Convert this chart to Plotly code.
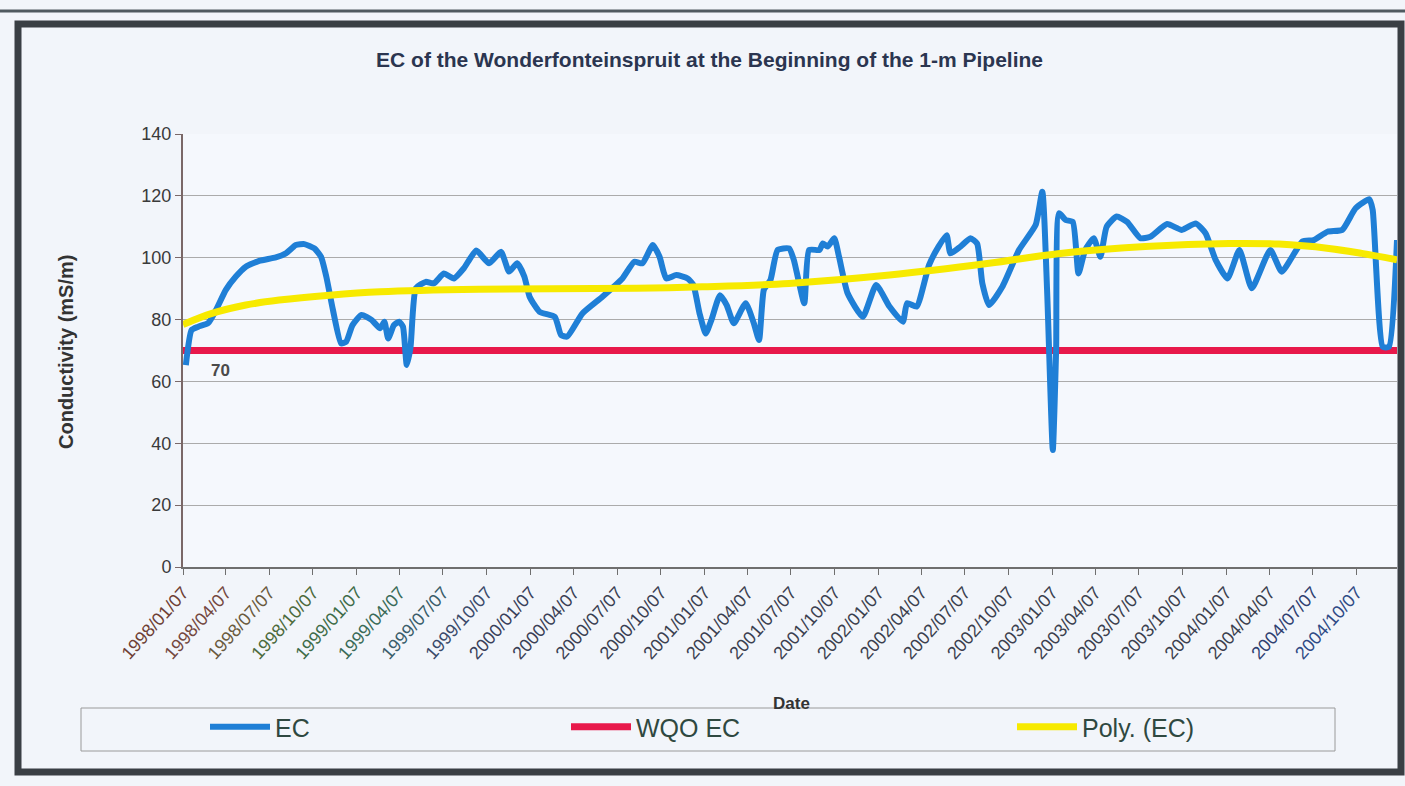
import plotly.graph_objects as go

# ---------------- data ----------------
ec_dates = [
    "1998-01-13", "1998-01-25", "1998-02-08", "1998-03-01", "1998-03-17", "1998-04-07",
    "1998-04-28", "1998-05-19", "1998-06-16", "1998-07-21", "1998-08-11", "1998-09-01",
    "1998-09-19", "1998-10-10", "1998-10-24", "1998-11-04", "1998-11-18", "1998-12-05",
    "1998-12-16", "1998-12-29", "1999-01-17", "1999-02-07", "1999-02-25", "1999-03-06",
    "1999-03-14", "1999-03-26", "1999-04-06", "1999-04-14", "1999-04-22", "1999-04-30",
    "1999-05-11", "1999-06-01", "1999-06-18", "1999-07-09", "1999-07-30", "1999-08-20",
    "1999-09-15", "1999-10-12", "1999-11-06", "1999-11-23", "1999-12-10", "1999-12-25",
    "2000-01-05", "2000-01-26", "2000-02-27", "2000-03-11", "2000-03-24", "2000-04-25",
    "2000-06-06", "2000-07-18", "2000-08-12", "2000-08-29", "2000-09-20", "2000-10-04",
    "2000-10-18", "2000-11-08", "2000-12-02", "2000-12-14", "2000-12-27", "2001-01-09",
    "2001-01-21", "2001-02-08", "2001-02-22", "2001-03-09", "2001-04-03", "2001-04-20",
    "2001-05-01", "2001-05-11", "2001-05-25", "2001-06-09", "2001-07-03", "2001-07-13",
    "2001-08-04", "2001-08-14", "2001-09-05", "2001-09-12", "2001-09-22", "2001-10-06",
    "2001-10-16", "2001-11-03", "2001-12-05", "2002-01-02", "2002-01-30", "2002-02-27",
    "2002-03-08", "2002-03-28", "2002-04-23", "2002-05-13", "2002-05-30", "2002-06-07",
    "2002-06-28", "2002-07-19", "2002-08-02", "2002-08-13", "2002-08-27", "2002-09-24",
    "2002-10-29", "2002-12-03", "2002-12-17", "2002-12-27", "2003-01-08", "2003-01-15",
    "2003-01-21", "2003-02-04", "2003-02-19", "2003-03-03", "2003-03-17", "2003-04-04",
    "2003-04-18", "2003-05-01", "2003-05-22", "2003-06-13", "2003-07-11", "2003-08-01",
    "2003-09-05", "2003-10-06", "2003-11-04", "2003-11-25", "2003-12-16", "2004-01-10",
    "2004-02-04", "2004-03-01", "2004-04-09", "2004-05-03", "2004-06-15", "2004-07-09",
    "2004-08-07", "2004-09-07", "2004-10-05", "2004-11-03", "2004-11-10", "2004-12-01",
    "2004-12-14", "2004-12-31",
]
ec_values = [
    65.3, 76.6, 77.7, 78.9, 83.0, 89.6,
    93.9, 97.1, 99.0, 100.1, 101.4, 104.1,
    104.4, 103.0, 100.3, 93.9, 83.1, 72.3,
    72.9, 78.2, 81.5, 79.9, 77.2, 79.3,
    73.9, 78.2, 79.3, 77.7, 65.3, 71.2,
    90.1, 92.2, 91.7, 94.9, 93.3, 96.6,
    102.3, 98.2, 101.9, 95.5, 98.2, 93.9,
    87.4, 82.5, 80.9, 75.0, 74.5, 82.0,
    87.4, 93.3, 98.7, 98.2, 104.1, 100.3,
    93.3, 94.4, 93.3, 91.2, 82.0, 75.5,
    79.9, 87.9, 84.7, 78.8, 85.3, 78.8,
    73.4, 89.6, 92.8, 102.5, 103.0, 99.3,
    85.3, 102.5, 102.5, 104.6, 103.6, 106.3,
    100.3, 88.5, 80.9, 91.2, 84.2, 79.3,
    85.3, 84.2, 97.6, 103.6, 107.3, 101.4,
    103.6, 106.3, 104.6, 91.7, 84.7, 90.6,
    102.5, 110.6, 121.3, 89.6, 37.8, 70.2,
    114.4, 112.2, 111.6, 94.9, 102.5, 106.3,
    100.3, 110.0, 113.3, 111.6, 106.3, 106.8,
    110.9, 109.0, 111.1, 107.9, 99.3, 93.3,
    102.5, 90.1, 102.5, 95.5, 105.2, 105.7,
    108.4, 109.0, 116.0, 118.9, 115.4, 71.2,
    71.2, 105.7,
]

wqo_dates = ["1998-01-07", "2004-12-31"]
wqo_values = [70, 70]

poly_dates = [
    "1998-01-07", "1998-03-09", "1998-05-19", "1998-07-28", "1998-11-11", "1999-02-25",
    "1999-09-21", "2000-08-16", "2001-01-02", "2001-07-03", "2002-01-30", "2002-08-27",
    "2003-01-19", "2003-07-21", "2004-01-13", "2004-04-27", "2004-08-10", "2004-10-18",
    "2004-12-31",
]
poly_values = [
    78.4, 82.0, 84.7, 86.3, 87.9, 89.0,
    89.8, 90.1, 90.6, 91.7, 94.4, 98.2,
    101.3, 103.6, 104.6, 104.4, 103.0, 101.4,
    99.3,
]

tick_dates = [f"{y}-{m:02d}-07" for y in range(1998, 2005) for m in (1, 4, 7, 10)]
tick_labels = [f"{y}/{m:02d}/07" for y in range(1998, 2005) for m in (1, 4, 7, 10)]
tick_colors = [
    "#6e3f35", "#74483f", "#6a5a3e", "#4c6a3c",
    "#3e6c48", "#3a6b58", "#3a5d6a", "#3a4a6a",
    "#39405a", "#3a3f55", "#3a3f52", "#3a3f52",
    "#3b3f50", "#3b3f50", "#3b3f50", "#3b3f50",
    "#3b3f4e", "#3b3f4e", "#3b3f4e", "#3b3f4e",
    "#3b3f4e", "#3b3f4e", "#3b3f4e", "#3b3f4e",
    "#3b3f4e", "#3b3f4e", "#2f4070", "#2f4a85",
]
tick_text = [f"<span style='color:{c}'>{t}</span>" for t, c in zip(tick_labels, tick_colors)]

y_ticks = [0, 20, 40, 60, 80, 100, 120, 140]

# ---------------- geometry helpers (plot area in px) ----------------
W, H = 1405, 786
L, R, T, B = 183, 1397, 134, 567


def px(xp):
    return (xp - L) / (R - L)


def py(yp):
    return (B - yp) / (B - T)


fig = go.Figure()

fig.add_trace(go.Scatter(
    x=wqo_dates, y=wqo_values, mode="lines", name="WQO EC",
    line=dict(color="#e8194b", width=7), legend="legend2",
))
fig.add_trace(go.Scatter(
    x=ec_dates, y=ec_values, mode="lines", name="EC",
    line=dict(color="#1f7fd6", width=6, shape="spline", smoothing=0.5), legend="legend",
))
fig.add_trace(go.Scatter(
    x=poly_dates, y=poly_values, mode="lines", name="Poly. (EC)",
    line=dict(color="#f7ea00", width=7, shape="spline", smoothing=1.0), legend="legend3",
))

legend_common = dict(
    orientation="h", xanchor="left", yanchor="middle", itemwidth=60,
    font=dict(family="Liberation Sans, Arial", size=25, color="#2f4840"),
    bgcolor="rgba(0,0,0,0)", borderwidth=0,
)

fig.update_layout(
    width=W, height=H,
    margin=dict(l=L, r=W - R, t=T, b=H - B),
    paper_bgcolor="#f2f5fa",
    plot_bgcolor="#f5f8fd",
    font=dict(family="Liberation Sans, Arial", color="#333333"),
    title=dict(
        text="<b>EC of the Wonderfonteinspruit at the Beginning of the 1-m Pipeline</b>",
        x=0.505, xref="container", xanchor="center",
        y=1 - 60 / H, yref="container", yanchor="middle",
        font=dict(family="Liberation Sans, Arial", size=21, color="#2b3550"),
    ),
    xaxis=dict(
        type="date",
        range=["1998-01-07", "2004-12-31"],
        tickmode="array", tickvals=tick_dates, ticktext=tick_text,
        tickangle=-48,
        tickfont=dict(size=18, family="Liberation Sans, Arial"),
        showgrid=False, zeroline=False,
        showline=True, linecolor="#6f6f6f", linewidth=2,
        ticks="outside", ticklen=6, tickcolor="#6f6f6f", tickwidth=1,
    ),
    yaxis=dict(
        range=[0, 140], tickmode="array", tickvals=y_ticks,
        tickfont=dict(size=18, color="#3a3a3a"),
        showgrid=True, gridcolor="#ababab", gridwidth=1,
        zeroline=False,
        showline=True, linecolor="#7a6868", linewidth=2,
        ticks="outside", ticklen=6, tickcolor="#7a6868",
    ),
    legend=dict(x=px(205), y=py(727), **legend_common),
    legend2=dict(x=px(566), y=py(727), **legend_common),
    legend3=dict(x=px(1012), y=py(727), **legend_common),
    showlegend=True,
)

# axis titles and data label
fig.add_annotation(
    text="<b>Conductivity (mS/m)</b>", textangle=-90,
    xref="paper", yref="paper", x=px(66), y=py(352), showarrow=False,
    font=dict(size=20, color="#333333"), xanchor="center", yanchor="middle",
)
fig.add_annotation(
    text="<b>Date</b>", xref="paper", yref="paper", x=px(791), y=py(703),
    showarrow=False, font=dict(size=17, color="#333333"),
    xanchor="center", yanchor="middle",
)
fig.add_annotation(
    text="<b>70</b>", x="1998-03-26", y=63.4, showarrow=False,
    font=dict(size=17, color="#4a4a4a"), xanchor="center", yanchor="middle",
)

# legend box, frame and top rule
fig.add_shape(type="rect", xref="paper", yref="paper",
              x0=px(81), x1=px(1335), y0=py(708), y1=py(751),
              line=dict(color="#9a9a9a", width=1), fillcolor="rgba(0,0,0,0)", layer="below")
fig.add_shape(type="rect", xref="paper", yref="paper",
              x0=px(18), x1=px(1401), y0=py(24), y1=py(772),
              line=dict(color="#3a3f44", width=7), fillcolor="rgba(0,0,0,0)")
fig.add_shape(type="line", xref="paper", yref="paper",
              x0=px(0), x1=px(1405), y0=py(11), y1=py(11),
              line=dict(color="#505a60", width=3))

fig.write_html(
    "out.html",
    config={"displayModeBar": False},
    post_script="document.body.style.margin='0';document.body.style.overflow='hidden';",
)
